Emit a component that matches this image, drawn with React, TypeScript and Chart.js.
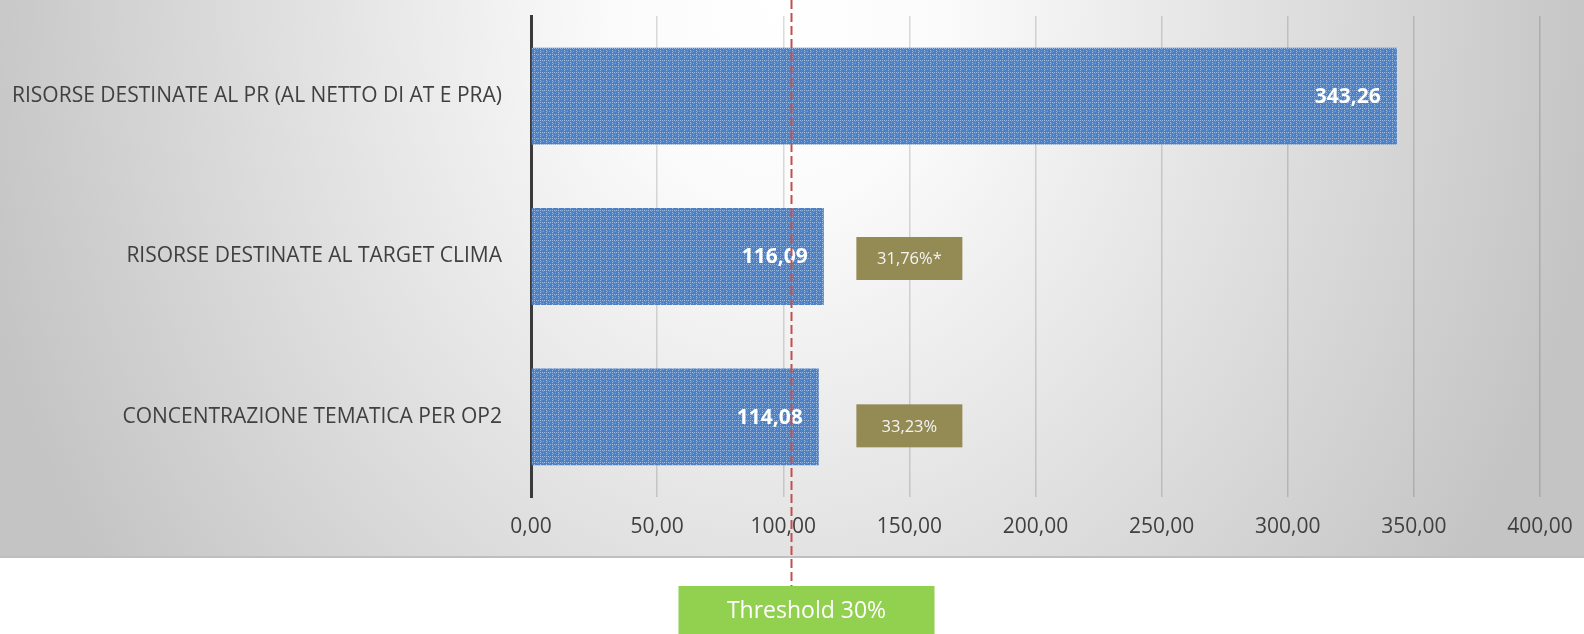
import React, { useEffect, useRef } from "react";
import { Chart, registerables } from "chart.js";

Chart.register(...registerables);

const categories = [
  "RISORSE DESTINATE AL PR (AL NETTO DI AT E PRA)",
  "RISORSE DESTINATE AL TARGET CLIMA",
  "CONCENTRAZIONE TEMATICA PER OP2",
];
const values = [343.26, 116.09, 114.08];
const shareLabels = ["", "31,76%*", "33,23%"];
const thresholdPct = 30;
const thresholdLabel = "Threshold 30%";
const axisMin = 0;
const axisMax = 400;
const axisStep = 50;

const FONT = "'Open Sans', Lato, sans-serif";
const W = 1584;
const H = 634;
const PANEL_H = 558;

const fmt = (v: number) => v.toFixed(2).replace(".", ",");

function makePattern(): CanvasPattern | string {
  const c = document.createElement("canvas");
  c.width = 6;
  c.height = 6;
  const g = c.getContext("2d");
  if (!g) return "#4f81bd";
  g.fillStyle = "#4c7fc3";
  g.fillRect(0, 0, 6, 6);
  g.fillStyle = "#9bbbe2";
  [[0, 0], [2, 0], [4, 0], [0, 2], [0, 4]].forEach(([x, y]) => g.fillRect(x, y, 1, 1));
  g.fillStyle = "#78a0d5";
  [[3, 3], [1, 3], [3, 1]].forEach(([x, y]) => g.fillRect(x, y, 1, 1));
  const ctx = document.createElement("canvas").getContext("2d");
  const p = ctx ? ctx.createPattern(c, "repeat") : null;
  return p || "#4f81bd";
}

const decorPlugin = {
  id: "decor",
  beforeDraw(chart: any) {
    const ctx = chart.ctx;
    ctx.save();
    ctx.fillStyle = "#ffffff";
    ctx.fillRect(0, 0, W, H);
    ctx.save();
    ctx.beginPath();
    ctx.rect(0, 0, W, PANEL_H);
    ctx.clip();
    const k = 1000 / 830;
    ctx.translate(780, 0);
    ctx.scale(1, k);
    const grad = ctx.createRadialGradient(0, 0, 0, 0, 0, 830);
    grad.addColorStop(0, "#ffffff");
    grad.addColorStop(0.2, "#fbfbfb");
    grad.addColorStop(1, "#c4c4c4");
    ctx.fillStyle = grad;
    ctx.fillRect(-1000, -100, 3000, 1000);
    ctx.restore();
    ctx.fillStyle = "#bfbfbf";
    ctx.fillRect(0, PANEL_H - 2, W, 2);
    ctx.restore();
  },
  afterDatasetsDraw(chart: any) {
    const ctx = chart.ctx;
    const meta = chart.getDatasetMeta(0);
    const xs = chart.scales.x;
    ctx.save();
    ctx.font = `bold 21px ${FONT}`;
    ctx.fillStyle = "#ffffff";
    ctx.textAlign = "right";
    ctx.textBaseline = "middle";
    meta.data.forEach((bar: any, i: number) => {
      ctx.fillText(fmt(values[i]), bar.x - 16, bar.y + 1);
    });
    const offsets = [0, 2, 9];
    meta.data.forEach((bar: any, i: number) => {
      if (!shareLabels[i]) return;
      const cx = xs.getPixelForValue(150);
      const cy = bar.y + offsets[i];
      const bw = 106;
      const bh = 43;
      ctx.fillStyle = "#948a54";
      ctx.fillRect(cx - bw / 2, cy - bh / 2, bw, bh);
      ctx.fillStyle = "#f4f4f4";
      ctx.font = `16.5px ${FONT}`;
      ctx.textAlign = "center";
      ctx.fillText(shareLabels[i], cx, cy + 1);
    });
    const tx = Math.round(xs.getPixelForValue((values[0] * thresholdPct) / 100)) + 0.5;
    ctx.strokeStyle = "#c0504d";
    ctx.lineWidth = 2;
    ctx.setLineDash([9, 4]);
    ctx.beginPath();
    ctx.moveTo(tx, 0);
    ctx.lineTo(tx, 586);
    ctx.stroke();
    ctx.setLineDash([]);
    const bl = tx - 113;
    ctx.fillStyle = "#92d050";
    ctx.fillRect(bl, 586, 256, 48);
    ctx.fillStyle = "#ffffff";
    ctx.font = `23px ${FONT}`;
    ctx.textAlign = "center";
    ctx.textBaseline = "middle";
    ctx.fillText(thresholdLabel, bl + 128, 611);
    ctx.restore();
  },
};

export default function App() {
  const ref = useRef<HTMLCanvasElement>(null);
  useEffect(() => {
    document.body.style.margin = "0";
    if (!ref.current) return;
    const chart = new Chart(ref.current, {
      type: "bar",
      data: {
        labels: categories,
        datasets: [
          {
            data: values,
            backgroundColor: makePattern() as any,
            borderWidth: 0,
            barPercentage: 0.604,
            categoryPercentage: 1,
          },
        ],
      },
      options: {
        indexAxis: "y",
        responsive: false,
        animation: false,
        layout: { padding: { top: 16, right: 44, left: 0, bottom: 96 } },
        plugins: { legend: { display: false }, tooltip: { enabled: false } },
        scales: {
          x: {
            min: axisMin,
            max: axisMax,
            ticks: {
              stepSize: axisStep,
              callback: (v: any) => fmt(Number(v)),
              color: "#404040",
              font: { family: FONT, size: 21 },
              padding: 17,
              maxRotation: 0,
            },
            grid: { color: "rgba(0,0,0,0.14)", lineWidth: 1.5, drawTicks: false },
            border: { display: false },
            afterFit: (s: any) => {
              s.height = 41;
              s.paddingLeft = 0;
              s.paddingRight = 0;
            },
          },
          y: {
            ticks: {
              color: "#404040",
              font: { family: FONT, size: 21 },
              padding: 29,
            },
            grid: { display: false, drawTicks: false },
            border: { display: true, color: "#3a3a3a", width: 3 },
            afterFit: (s: any) => {
              s.width = 531;
              s.paddingTop = 0;
              s.paddingBottom = 0;
            },
          },
        },
      },
      plugins: [decorPlugin],
    });
    return () => chart.destroy();
  }, []);
  return (
    <div style={{ width: W, height: H, position: "relative" }}>
      <canvas ref={ref} width={W} height={H} style={{ width: W, height: H, display: "block" }} />
    </div>
  );
}
